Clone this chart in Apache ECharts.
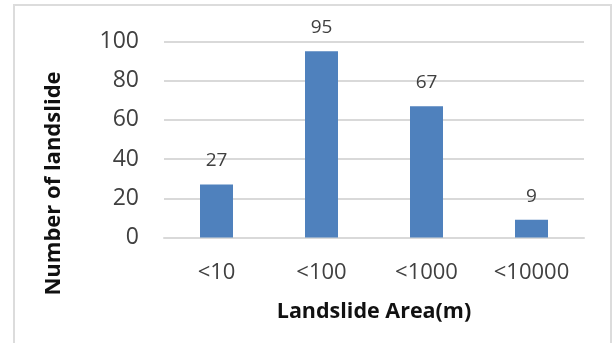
<!DOCTYPE html>
<html>
<head>
<meta charset="utf-8">
<script src="https://cdn.jsdelivr.net/npm/echarts@6/dist/echarts.min.js"></script>
<style>
  html, body { margin: 0; padding: 0; background: #ffffff; }
  #chart { width: 613px; height: 343px; }
</style>
</head>
<body>
<div id="chart"></div>
<script>
// Landslide counts grouped by area class
const categories = ['<10', '<100', '<1000', '<10000'];
const counts = [27, 95, 67, 9];
const yTicks = { min: 0, max: 100, interval: 20 };

const FONT = '"Open Sans", "Liberation Sans", sans-serif';
const chart = echarts.init(document.getElementById('chart'), null, { renderer: 'canvas' });

chart.setOption({
  backgroundColor: '#ffffff',
  animation: false,
  graphic: [{
    type: 'rect',
    shape: { x: 14, y: 5, width: 597, height: 360 },
    style: { fill: 'none', stroke: '#dcdcdc', lineWidth: 2 },
    silent: true
  }],
  grid: { left: 164, right: 29, top: 41.5, bottom: 105.5, containLabel: false },
  xAxis: {
    type: 'category',
    data: categories,
    axisLine: { show: true, lineStyle: { color: '#d9d9d9', width: 2 } },
    axisTick: { show: false },
    axisLabel: { color: '#404040', fontFamily: FONT, fontSize: 22, margin: 24 },
    name: 'Landslide Area(m)',
    nameLocation: 'middle',
    nameGap: 63,
    nameTextStyle: { color: '#111111', fontFamily: FONT, fontSize: 21.5, fontWeight: 'bold' }
  },
  yAxis: {
    type: 'value',
    min: yTicks.min,
    max: yTicks.max,
    interval: yTicks.interval,
    axisLine: { show: false },
    axisTick: { show: false },
    splitLine: { lineStyle: { color: '#d9d9d9', width: 2 } },
    axisLabel: { color: '#404040', fontFamily: FONT, fontSize: 23, margin: 25 },
    name: 'Number of landslide',
    nameLocation: 'middle',
    nameGap: 99,
    nameRotate: 90,
    nameTextStyle: {
      color: '#111111', fontFamily: FONT, fontSize: 22, fontWeight: 'bold',
      padding: [0, 88, 0, 0]
    }
  },
  series: [{
    type: 'bar',
    data: counts,
    barWidth: 33,
    itemStyle: { color: '#4f81bd' },
    label: {
      show: true,
      position: 'top',
      distance: 14,
      color: '#404040',
      fontFamily: FONT,
      fontSize: 19
    }
  }]
});
</script>
</body>
</html>
